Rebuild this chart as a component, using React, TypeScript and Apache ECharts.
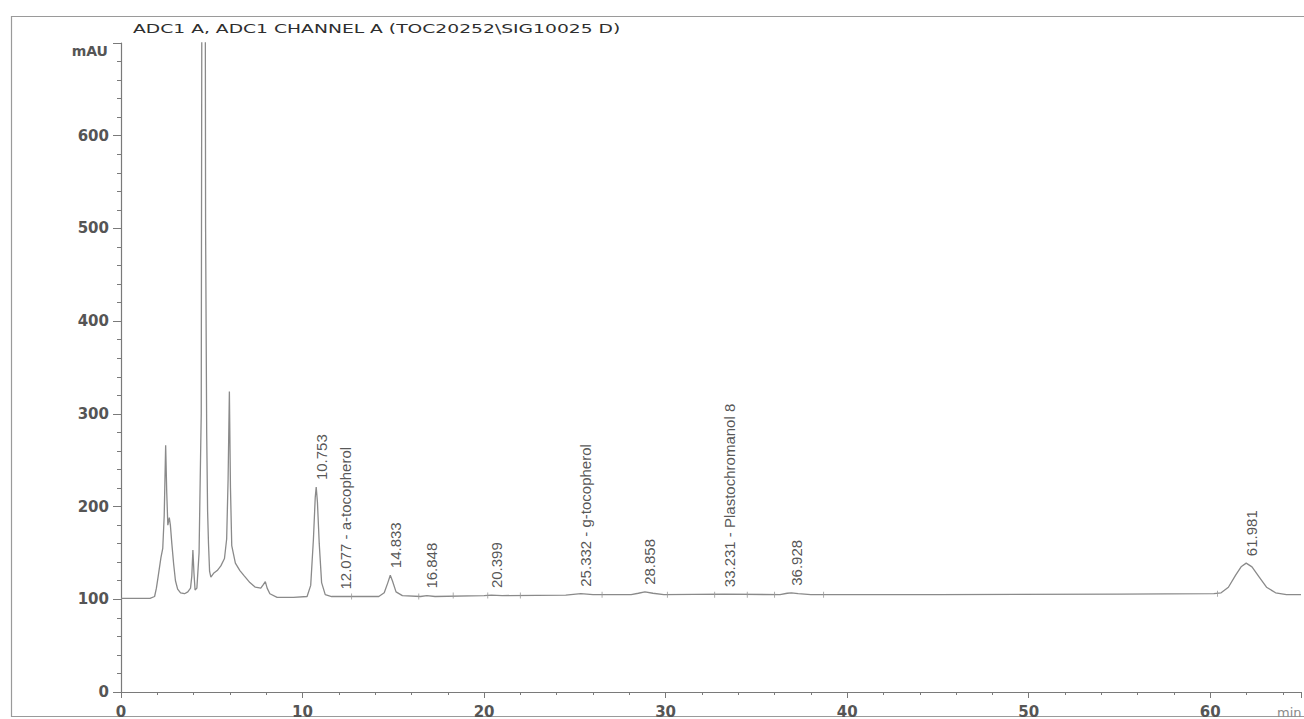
import { useEffect, useRef } from "react";
import * as echarts from "echarts";

// Detector trace: retention time (min) and absorbance (mAU)
const TIME = [
  0, 1.6, 1.85, 1.95, 2.05, 2.2, 2.3, 2.38, 2.46, 2.52, 2.58, 2.66, 2.72, 2.8, 2.9, 3.0, 3.12, 3.28, 3.5, 3.68,
  3.83, 3.9, 3.96, 4.02, 4.08, 4.18, 4.3, 4.42, 4.5, 4.6, 4.66, 4.72, 4.77, 4.82, 4.88, 4.95, 5.1, 5.3, 5.5, 5.7,
  5.82, 5.9, 5.97, 6.03, 6.1, 6.3, 6.55, 6.8, 7.1, 7.4, 7.7, 7.85, 7.95, 8.05, 8.2, 8.6, 9.5, 10.25, 10.45, 10.6,
  10.7, 10.753, 10.82, 10.92, 11.05, 11.25, 11.6, 12.1, 14.2, 14.5, 14.7, 14.833, 14.95, 15.15, 15.5, 16.5, 16.85, 17.3, 20.0, 20.4,
  21, 24.5, 25.33, 26, 28.1, 28.5, 28.86, 29.3, 29.9, 33.23, 36.3, 36.7, 36.93, 37.3, 38, 45, 55, 60.2, 60.6, 61.0,
  61.4, 61.7, 61.981, 62.3, 62.7, 63.1, 63.6, 64.2, 65,
];
const SIGNAL = [
  101, 101, 103, 112, 125, 145, 155, 190, 266, 215, 180, 188, 180, 160, 138, 120, 111, 107, 106, 108,
  112, 125, 153, 128, 110, 112, 150, 300, 1400, 1400, 500, 280, 195, 160, 130, 124, 128, 131, 136, 144,
  165, 230, 324, 220, 158, 139, 131, 125, 118, 113, 112, 116, 119, 112, 106, 102, 102, 103, 115, 165,
  210, 221, 205, 160, 118, 105, 103, 103, 103, 107, 118, 126, 120, 108, 104, 103, 104, 103, 104, 104.5,
  104, 104.5, 106, 105, 105, 106.5, 108, 106.5, 105, 105.5, 105, 106.5, 107, 106, 105, 105, 105.5, 106, 107, 113,
  126, 135, 139, 135, 124, 113, 107, 105, 105,
];

// Integrated peaks: retention time, apex height, compound name
const PEAK_RT = [10.753, 12.077, 14.833, 16.848, 20.399, 25.332, 28.858, 33.231, 36.928, 61.981];
const PEAK_HEIGHT = [221, 103, 126, 104, 104.5, 106, 108, 105.5, 107, 139];
const PEAK_NAME = ["", "a-tocopherol", "", "", "", "g-tocopherol", "", "Plastochromanol 8", "", ""];

// Integration baseline marks
const MARK_RT = [12.7, 16.4, 18.3, 20.2, 22.0, 26.5, 30.1, 32.7, 34.5, 36.0, 38.7, 60.4];
const MARK_LEVEL = [103, 103, 104, 104, 104, 105, 105, 105, 105, 105, 105, 106];

const X_MAX = 65;
const Y_MAX = 700;

const TITLE = "ADC1 A, ADC1 CHANNEL A (TOC20252\\SIG10025 D)";

export default function App() {
  const ref = useRef<HTMLDivElement>(null);

  useEffect(() => {
    if (!ref.current) return;
    const chart = echarts.init(ref.current, undefined, { renderer: "svg" });
    const axisColor = "#7a7a7a";
    const labelFont = "DejaVu Sans";

    chart.setOption({
      animation: false,
      backgroundColor: "#ffffff",
      grid: { left: 121, top: 43, width: 1187, height: 649 },
      xAxis: {
        type: "value",
        min: 0,
        max: X_MAX,
        interval: 10,
        splitLine: { show: false },
        axisLine: { lineStyle: { color: axisColor, width: 1.2 } },
        axisTick: { length: 6, lineStyle: { color: axisColor } },
        minorTick: { show: true, splitNumber: 5, length: 3, lineStyle: { color: axisColor } },
        axisLabel: {
          margin: 12,
          fontSize: 15,
          fontWeight: "bold",
          fontFamily: labelFont,
          color: "#555555",
          formatter: (v: number) => (v % 10 === 0 && v < X_MAX ? String(v) : ""),
        },
      },
      yAxis: {
        type: "value",
        min: 0,
        max: Y_MAX,
        interval: 100,
        splitLine: { show: false },
        axisLine: { show: true, lineStyle: { color: axisColor, width: 1.2 } },
        axisTick: { show: true, length: 8, lineStyle: { color: axisColor } },
        minorTick: { show: true, splitNumber: 5, length: 4, lineStyle: { color: axisColor } },
        axisLabel: {
          margin: 12,
          fontSize: 15,
          fontWeight: "bold",
          fontFamily: labelFont,
          color: "#555555",
          formatter: (v: number) => (v < Y_MAX ? String(v) : ""),
        },
      },
      graphic: [
        {
          type: "rect",
          shape: { x: 11.5, y: 16.5, width: 1310, height: 700 },
          style: { fill: "none", stroke: "#9a9a9a", lineWidth: 1.2 },
          silent: true,
        },
        {
          type: "text",
          x: 133,
          y: 22,
          scaleX: 1.44,
          style: { text: TITLE, font: "13px DejaVu Sans", fill: "#2e2e2e", textVerticalAlign: "top" },
        },
        {
          type: "text",
          x: 108,
          y: 51,
          style: {
            text: "mAU",
            font: "bold 14px DejaVu Sans",
            fill: "#555555",
            textAlign: "right",
            textVerticalAlign: "middle",
          },
        },
        {
          type: "text",
          x: 1277,
          y: 712,
          style: { text: "min", font: "13px DejaVu Sans", fill: "#8a8a8a", textVerticalAlign: "middle" },
        },
      ],
      series: [
        {
          type: "line",
          data: TIME.map((t, i) => [t, SIGNAL[i]]),
          showSymbol: false,
          clip: true,
          lineStyle: { color: "#8a8a8a", width: 1.3 },
          z: 2,
        },
        {
          type: "scatter",
          data: MARK_RT.map((t, i) => [t, MARK_LEVEL[i]]),
          symbol: "rect",
          symbolSize: [1, 6],
          itemStyle: { color: "#9a9a9a" },
          z: 3,
        },
        {
          type: "scatter",
          data: PEAK_RT.map((t, i) => ({
            value: [t, PEAK_HEIGHT[i]],
            name: PEAK_NAME[i] ? `${t.toFixed(3)} - ${PEAK_NAME[i]}` : t.toFixed(3),
          })),
          symbolSize: 0,
          z: 4,
          label: {
            show: true,
            formatter: (p: any) => p.name,
            rotate: 90,
            position: [5, -7],
            align: "left",
            verticalAlign: "middle",
            fontSize: 15,
            fontFamily: "Liberation Sans",
            color: "#2a2a2a",
          },
        },
      ],
    });

    return () => chart.dispose();
  }, []);

  return (
    <div
      ref={ref}
      style={{ position: "absolute", left: 0, top: 0, width: 1304, height: 719, overflow: "hidden" }}
    />
  );
}
